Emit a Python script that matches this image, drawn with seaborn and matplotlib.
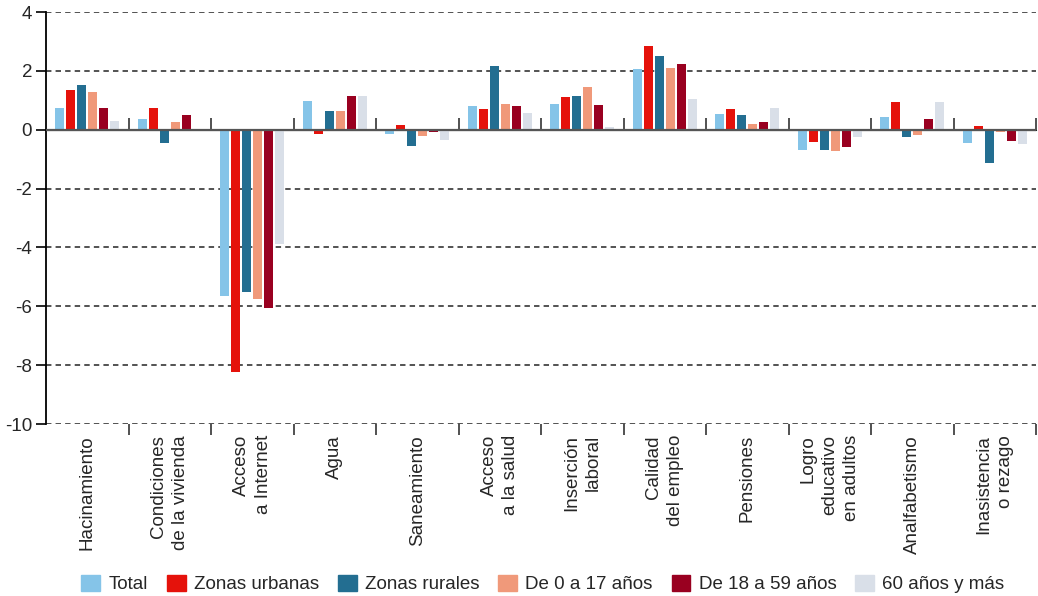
import matplotlib
matplotlib.use("Agg")
import matplotlib.pyplot as plt
import seaborn as sns
import pandas as pd
import numpy as np

categories = ["Hacinamiento", "Condiciones\nde la vivienda", "Acceso\na Internet", "Agua",
              "Saneamiento", "Acceso\na la salud", "Inserción\nlaboral", "Calidad\ndel empleo",
              "Pensiones", "Logro\neducativo\nen adultos", "Analfabetismo", "Inasistencia\no rezago"]
series_names = ["Total", "Zonas urbanas", "Zonas rurales", "De 0 a 17 años",
                "De 18 a 59 años", "60 años y más"]

total    = [0.73, 0.37, -5.66, 0.96, -0.14, 0.79, 0.89, 2.06, 0.55, -0.68, 0.43, -0.46]
urbanas  = [1.34, 0.73, -8.22, -0.14, 0.16, 0.70, 1.12, 2.86, 0.69, -0.42, 0.93, 0.12]
rurales  = [1.51, -0.44, -5.52, 0.63, -0.56, 2.17, 1.13, 2.52, 0.49, -0.70, -0.26, -1.12]
de0a17   = [1.28, 0.27, -5.74, 0.63, -0.20, 0.86, 1.46, 2.11, 0.20, -0.72, -0.17, -0.08]
de18a59  = [0.73, 0.49, -6.06, 1.16, -0.07, 0.82, 0.84, 2.24, 0.27, -0.59, 0.37, -0.37]
mas60    = [0.30, 0.00, -3.89, 1.14, -0.36, 0.58, 0.09, 1.04, 0.73, -0.25, 0.94, -0.49]

colors = ["#85C4E8", "#E5120B", "#236E91", "#F0997A", "#990020", "#D9DFE8"]

series_values = [total, urbanas, rurales, de0a17, de18a59, mas60]
rows = []
for name, vals in zip(series_names, series_values):
    for cat, v in zip(categories, vals):
        rows.append({"cat": cat, "serie": name, "val": v})
df = pd.DataFrame(rows)

sns.set_style("white")
plt.rcParams['font.family'] = ['Liberation Sans', 'DejaVu Sans']

fig = plt.figure(figsize=(10.38, 5.96), dpi=100)
ax = fig.add_axes([46/1038, (596-424)/596, (1036-46)/1038, (424-12)/596])

sns.barplot(data=df, x="cat", y="val", hue="serie", order=categories,
            hue_order=series_names, palette=colors, saturation=1, width=0.8, gap=0.18,
            linewidth=0, ax=ax, zorder=3)

ax.set_xlim(-0.5, 11.5)
ax.set_ylim(-10, 4)
ax.set_yticks([4, 2, 0, -2, -4, -6, -8, -10])
ax.set_yticklabels(["4", "2", "0", "-2", "-4", "-6", "-8", "-10"], fontsize=13.5)
for y in [4, 2, -2, -4, -6, -8, -10]:
    ax.axhline(y, color="#444444", lw=1.3, ls=(0, (3, 2.3)), zorder=1)
ax.axhline(0, color="#555555", lw=1.6, zorder=4)

ax.set_xlabel("")
ax.set_ylabel("")
for s in ["top", "right", "bottom"]:
    ax.spines[s].set_visible(False)
ax.spines["left"].set_color("black")
ax.spines["left"].set_linewidth(1.3)
ax.tick_params(axis="y", direction="out", length=7, width=1.2, color="black", pad=3, left=True)

# x labels at centers, boundary ticks
ax.set_xticks(range(len(categories)))
ax.set_xticklabels(categories, rotation=90, fontsize=13.5, va="top", ha="center",
                   multialignment="right", linespacing=1.35)
ax.tick_params(axis="x", which="major", length=0, pad=8)
ax.set_xticks(np.arange(0.5, 12, 1.0), minor=True)
ax.tick_params(axis="x", which="minor", direction="out", length=8, width=1.2, color="#333333",
               bottom=True)

sec = ax.secondary_xaxis(10/14)
sec.set_xticks([])
sec.set_xticks(np.arange(0.5, 12, 1.0), minor=True)
sec.tick_params(axis="x", which="minor", direction="out", length=9, width=1.2, color="#333333")
sec.spines["bottom"].set_visible(False)

ax.legend_.remove()
handles = [plt.Rectangle((0, 0), 1, 1, color=c) for c in colors]
fig.legend(handles, series_names, loc="center", bbox_to_anchor=(543/1038, 1 - 584/596), ncol=6,
           frameon=False, fontsize=13.5, handlelength=1.0, handleheight=1.0,
           handletextpad=0.45, columnspacing=1.0)

fig.savefig("out.png", dpi=100)
